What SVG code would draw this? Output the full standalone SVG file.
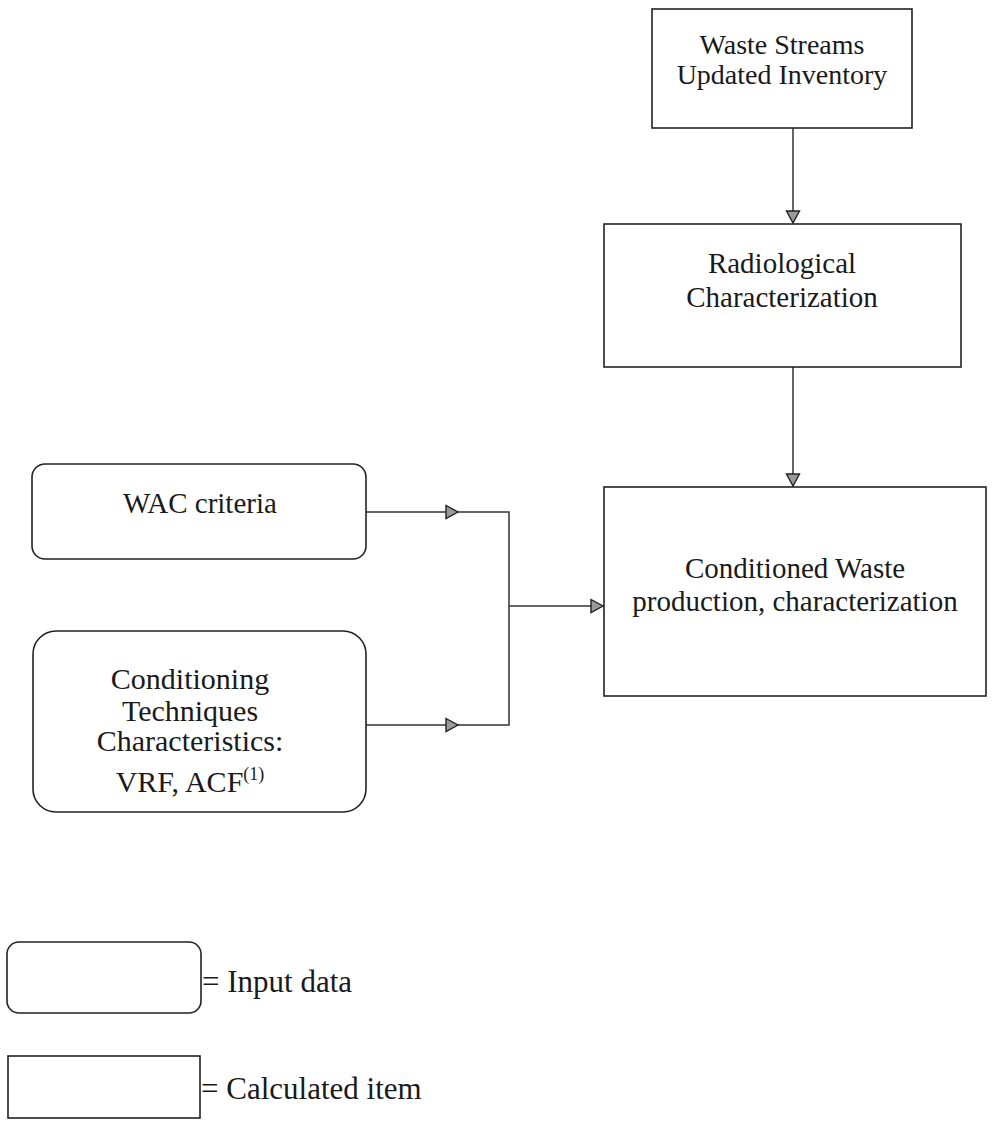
<svg xmlns="http://www.w3.org/2000/svg" width="992" height="1129" viewBox="0 0 992 1129">
<style>
.box{fill:#fff;stroke:#222;stroke-width:1.6}
.ln{fill:none;stroke:#333;stroke-width:1.5}
.t{font-family:"Liberation Serif","Times New Roman",serif;font-size:29px;fill:#1a1a1a;text-anchor:middle}
.lg{font-family:"Liberation Serif","Times New Roman",serif;font-size:31px;fill:#1a1a1a}
</style>
<defs>
<marker id="ah" markerUnits="userSpaceOnUse" markerWidth="16" markerHeight="16" viewBox="0 0 16 16" refX="13" refY="8" orient="auto">
<path d="M1,1.5 L13,8 L1,14.5 Z" fill="#9a9a9a" stroke="#222" stroke-width="1.4"/>
</marker>
</defs>
<rect width="992" height="1129" fill="#fff"/>
<g id="connectors">
<path class="ln" d="M793,128 V223" marker-end="url(#ah)"/>
<path class="ln" d="M793,367 V486" marker-end="url(#ah)"/>
<path class="ln" d="M366,512 H458" marker-end="url(#ah)"/>
<path class="ln" d="M456,512 H509 V725 H456"/>
<path class="ln" d="M366,725 H458" marker-end="url(#ah)"/>
<path class="ln" d="M509,606 H603" marker-end="url(#ah)"/>
</g>
<g id="waste-streams">
<rect class="box" x="652" y="9" width="260" height="119"/>
<text class="t" x="782" y="54" style="font-size:28px">Waste Streams</text>
<text class="t" x="782" y="84" style="font-size:28px">Updated Inventory</text>
</g>
<g id="radiological">
<rect class="box" x="604" y="224" width="357" height="143"/>
<text class="t" x="782" y="273">Radiological</text>
<text class="t" x="782" y="307">Characterization</text>
</g>
<g id="conditioned-waste">
<rect class="box" x="604" y="487" width="382" height="209"/>
<text class="t" x="795" y="578">Conditioned Waste</text>
<text class="t" x="795" y="611">production, characterization</text>
</g>
<g id="wac">
<rect class="box" x="32" y="464" width="334" height="95" rx="13" ry="13"/>
<text class="t" x="200" y="513">WAC criteria</text>
</g>
<g id="conditioning">
<rect class="box" x="33" y="631" width="333" height="181" rx="23" ry="23"/>
<text class="t" x="190" y="689" style="font-size:30px">Conditioning</text>
<text class="t" x="190" y="721" style="font-size:30px">Techniques</text>
<text class="t" x="190" y="751" style="font-size:30px">Characteristics:</text>
<text class="t" x="190" y="792" style="font-size:30px">VRF, ACF<tspan font-size="18" dy="-12">(1)</tspan></text>
</g>
<g id="legend-input">
<rect class="box" x="7" y="942" width="194" height="71" rx="12" ry="12"/>
<text class="lg" x="202" y="992">= Input data</text>
</g>
<g id="legend-calculated">
<rect class="box" x="8" y="1056" width="192" height="62"/>
<text class="lg" x="201" y="1099">= Calculated item</text>
</g>
</svg>
